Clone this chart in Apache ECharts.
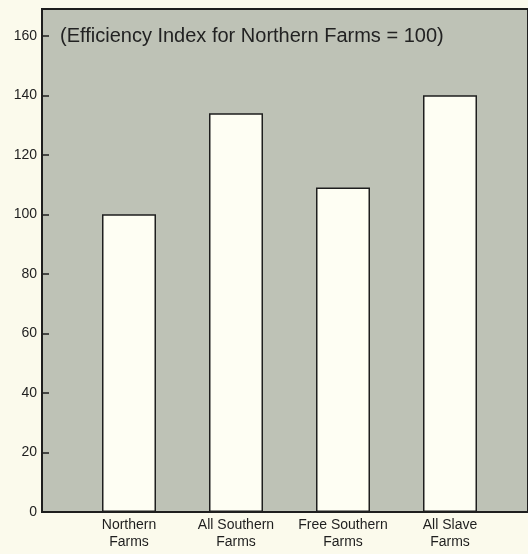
<!DOCTYPE html>
<html>
<head>
<meta charset="utf-8">
<script src="https://cdn.jsdelivr.net/npm/echarts@6/dist/echarts.min.js"></script>
<style>
html,body{margin:0;padding:0;background:#fbfaec;}
#c{width:528px;height:554px;}
</style>
</head>
<body>
<div id="c"></div>
<script>
const categories = ['Northern\nFarms', 'All Southern\nFarms', 'Free Southern\nFarms', 'All Slave\nFarms'];
const values = [100, 134, 109, 140];
const yTicks = [0, 20, 40, 60, 80, 100, 120, 140, 160];
const subtitle = '(Efficiency Index for Northern Farms = 100)';

const chart = echarts.init(document.getElementById('c'));
const font = 'Liberation Sans, Arial, sans-serif';
chart.setOption({
  backgroundColor: '#fbfaec',
  animation: false,
  title: {
    text: subtitle, left: 60, top: 26, padding: 0,
    textStyle: {fontFamily: font, fontSize: 20, fontWeight: 'normal', color: '#222'}
  },
  grid: [
    {left: 42, right: -3, top: 9, bottom: 42, show: true, backgroundColor: '#bec2b6',
     borderColor: '#1e1e1e', borderWidth: 2},
    {left: 75.5, right: 24.5, top: 9, bottom: 42}
  ],
  xAxis: [
    {gridIndex: 0, type: 'value', show: false, min: 0, max: 1},
    {gridIndex: 1, type: 'category', data: categories,
     axisLine: {show: false}, axisTick: {show: false},
     axisLabel: {fontFamily: font, fontSize: 14, color: '#1e1e1e', lineHeight: 17, margin: 5, interval: 0}}
  ],
  yAxis: [
    {gridIndex: 0, type: 'value', min: 0, max: 169, interval: 20,
     axisLine: {show: true, lineStyle: {color: '#1e1e1e', width: 2}},
     axisTick: {show: true, inside: true, length: 7, lineStyle: {color: '#1e1e1e', width: 1.5}},
     splitLine: {show: false},
     axisLabel: {fontFamily: font, fontSize: 14, color: '#1e1e1e', margin: 5,
       formatter: v => yTicks.includes(v) ? String(v) : ''}},
    {gridIndex: 1, type: 'value', min: 0, max: 169, show: false, splitLine: {show: false}}
  ],
  series: [{
    type: 'bar', xAxisIndex: 1, yAxisIndex: 1, data: values, barWidth: 54,
    itemStyle: {color: '#fefef3', borderColor: '#1e1e1e', borderWidth: 1.5}
  }]
});
</script>
</body>
</html>
